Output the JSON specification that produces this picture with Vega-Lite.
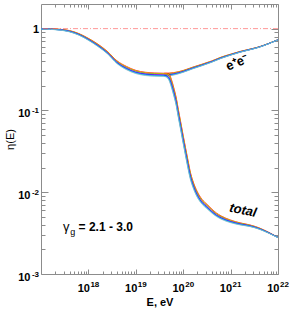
{
  "$schema": "https://vega.github.io/schema/vega-lite/v6.json",
  "width": 237,
  "height": 270,
  "autosize": {"type": "none"},
  "padding": {"left": 41, "top": 4, "right": 19, "bottom": 43},
  "background": "white",
  "config": {"view": {"stroke": null}, "font": "Liberation Sans"},
  "datasets": {
    "curves": [
      {"b":"ee","E":1e17,"g21":0.992,"g22":0.992,"g23":0.991,"g24":0.991,"g25":0.990,"g26":0.990,"g27":0.989,"g28":0.989,"g29":0.988,"g30":0.988},
      {"b":"ee","E":1.585e17,"g21":0.992,"g22":0.990,"g23":0.989,"g24":0.987,"g25":0.986,"g26":0.984,"g27":0.983,"g28":0.981,"g29":0.980,"g30":0.978},
      {"b":"ee","E":2.512e17,"g21":0.981,"g22":0.979,"g23":0.976,"g24":0.974,"g25":0.971,"g26":0.969,"g27":0.966,"g28":0.964,"g29":0.961,"g30":0.959},
      {"b":"ee","E":3.981e17,"g21":0.947,"g22":0.943,"g23":0.940,"g24":0.936,"g25":0.932,"g26":0.928,"g27":0.924,"g28":0.921,"g29":0.917,"g30":0.913},
      {"b":"ee","E":6.31e17,"g21":0.870,"g22":0.865,"g23":0.861,"g24":0.857,"g25":0.852,"g26":0.848,"g27":0.844,"g28":0.839,"g29":0.835,"g30":0.831},
      {"b":"ee","E":1e18,"g21":0.761,"g22":0.756,"g23":0.751,"g24":0.747,"g25":0.742,"g26":0.738,"g27":0.733,"g28":0.729,"g29":0.724,"g30":0.720},
      {"b":"ee","E":1.585e18,"g21":0.647,"g22":0.642,"g23":0.637,"g24":0.632,"g25":0.627,"g26":0.623,"g27":0.618,"g28":0.613,"g29":0.608,"g30":0.604},
      {"b":"ee","E":2.512e18,"g21":0.528,"g22":0.524,"g23":0.520,"g24":0.516,"g25":0.512,"g26":0.508,"g27":0.504,"g28":0.500,"g29":0.496,"g30":0.493},
      {"b":"ee","E":3.981e18,"g21":0.406,"g22":0.403,"g23":0.399,"g24":0.395,"g25":0.392,"g26":0.388,"g27":0.385,"g28":0.381,"g29":0.378,"g30":0.374},
      {"b":"ee","E":6.31e18,"g21":0.346,"g22":0.342,"g23":0.339,"g24":0.335,"g25":0.332,"g26":0.328,"g27":0.325,"g28":0.322,"g29":0.318,"g30":0.315},
      {"b":"ee","E":1e19,"g21":0.309,"g22":0.306,"g23":0.303,"g24":0.300,"g25":0.297,"g26":0.293,"g27":0.291,"g28":0.288,"g29":0.285,"g30":0.282},
      {"b":"ee","E":1.585e19,"g21":0.293,"g22":0.290,"g23":0.287,"g24":0.284,"g25":0.281,"g26":0.279,"g27":0.276,"g28":0.273,"g29":0.270,"g30":0.267},
      {"b":"ee","E":2.512e19,"g21":0.287,"g22":0.284,"g23":0.281,"g24":0.278,"g25":0.275,"g26":0.273,"g27":0.270,"g28":0.267,"g29":0.264,"g30":0.262},
      {"b":"ee","E":3.981e19,"g21":0.285,"g22":0.282,"g23":0.279,"g24":0.276,"g25":0.273,"g26":0.271,"g27":0.268,"g28":0.265,"g29":0.262,"g30":0.260},
      {"b":"ee","E":6.31e19,"g21":0.290,"g22":0.288,"g23":0.285,"g24":0.283,"g25":0.281,"g26":0.279,"g27":0.277,"g28":0.275,"g29":0.273,"g30":0.270},
      {"b":"ee","E":1e20,"g21":0.308,"g22":0.307,"g23":0.305,"g24":0.303,"g25":0.301,"g26":0.299,"g27":0.297,"g28":0.295,"g29":0.294,"g30":0.292},
      {"b":"ee","E":1.585e20,"g21":0.338,"g22":0.336,"g23":0.334,"g24":0.333,"g25":0.331,"g26":0.329,"g27":0.327,"g28":0.326,"g29":0.324,"g30":0.322},
      {"b":"ee","E":2.512e20,"g21":0.368,"g22":0.366,"g23":0.365,"g24":0.363,"g25":0.361,"g26":0.359,"g27":0.357,"g28":0.356,"g29":0.354,"g30":0.352},
      {"b":"ee","E":3.981e20,"g21":0.402,"g22":0.401,"g23":0.399,"g24":0.397,"g25":0.396,"g26":0.394,"g27":0.393,"g28":0.391,"g29":0.389,"g30":0.388},
      {"b":"ee","E":6.31e20,"g21":0.448,"g22":0.446,"g23":0.445,"g24":0.443,"g25":0.441,"g26":0.439,"g27":0.437,"g28":0.436,"g29":0.434,"g30":0.432},
      {"b":"ee","E":1e21,"g21":0.487,"g22":0.485,"g23":0.484,"g24":0.482,"g25":0.481,"g26":0.479,"g27":0.478,"g28":0.476,"g29":0.475,"g30":0.473},
      {"b":"ee","E":1.585e21,"g21":0.526,"g22":0.525,"g23":0.523,"g24":0.522,"g25":0.521,"g26":0.519,"g27":0.518,"g28":0.517,"g29":0.515,"g30":0.514},
      {"b":"ee","E":2.512e21,"g21":0.560,"g22":0.559,"g23":0.558,"g24":0.557,"g25":0.556,"g26":0.554,"g27":0.553,"g28":0.552,"g29":0.551,"g30":0.550},
      {"b":"ee","E":3.981e21,"g21":0.599,"g22":0.598,"g23":0.597,"g24":0.596,"g25":0.595,"g26":0.595,"g27":0.594,"g28":0.593,"g29":0.592,"g30":0.591},
      {"b":"ee","E":6.31e21,"g21":0.658,"g22":0.657,"g23":0.657,"g24":0.656,"g25":0.655,"g26":0.655,"g27":0.654,"g28":0.654,"g29":0.653,"g30":0.652},
      {"b":"ee","E":1e22,"g21":0.731,"g22":0.731,"g23":0.731,"g24":0.730,"g25":0.730,"g26":0.730,"g27":0.730,"g28":0.729,"g29":0.729,"g30":0.729},
      {"b":"tot","E":3.981e19,"g21":0.285,"g22":0.282,"g23":0.279,"g24":0.276,"g25":0.273,"g26":0.271,"g27":0.268,"g28":0.265,"g29":0.262,"g30":0.260},
      {"b":"tot","E":4.467e19,"g21":0.284,"g22":0.280,"g23":0.277,"g24":0.273,"g25":0.270,"g26":0.266,"g27":0.263,"g28":0.260,"g29":0.256,"g30":0.253},
      {"b":"tot","E":5.012e19,"g21":0.280,"g22":0.274,"g23":0.268,"g24":0.263,"g25":0.258,"g26":0.252,"g27":0.247,"g28":0.242,"g29":0.237,"g30":0.233},
      {"b":"tot","E":5.623e19,"g21":0.241,"g22":0.235,"g23":0.229,"g24":0.223,"g25":0.218,"g26":0.212,"g27":0.207,"g28":0.202,"g29":0.197,"g30":0.192},
      {"b":"tot","E":6.31e19,"g21":0.191,"g22":0.186,"g23":0.181,"g24":0.177,"g25":0.172,"g26":0.168,"g27":0.164,"g28":0.159,"g29":0.155,"g30":0.152},
      {"b":"tot","E":7.079e19,"g21":0.146,"g22":0.142,"g23":0.139,"g24":0.135,"g25":0.132,"g26":0.128,"g27":0.125,"g28":0.122,"g29":0.119,"g30":0.116},
      {"b":"tot","E":7.943e19,"g21":0.101,"g22":0.0984,"g23":0.0959,"g24":0.0935,"g25":0.0912,"g26":0.0889,"g27":0.0866,"g28":0.0844,"g29":0.0823,"g30":0.0802},
      {"b":"tot","E":8.913e19,"g21":0.0707,"g22":0.0689,"g23":0.0672,"g24":0.0655,"g25":0.0638,"g26":0.0622,"g27":0.0606,"g28":0.0591,"g29":0.0576,"g30":0.0562},
      {"b":"tot","E":1e20,"g21":0.0494,"g22":0.0481,"g23":0.0469,"g24":0.0457,"g25":0.0446,"g26":0.0434,"g27":0.0423,"g28":0.0413,"g29":0.0402,"g30":0.0392},
      {"b":"tot","E":1.122e20,"g21":0.0348,"g22":0.0339,"g23":0.0330,"g24":0.0322,"g25":0.0314,"g26":0.0306,"g27":0.0298,"g28":0.0291,"g29":0.0283,"g30":0.0276},
      {"b":"tot","E":1.259e20,"g21":0.0247,"g22":0.0241,"g23":0.0235,"g24":0.0229,"g25":0.0223,"g26":0.0217,"g27":0.0212,"g28":0.0206,"g29":0.0201,"g30":0.0196},
      {"b":"tot","E":1.413e20,"g21":0.0177,"g22":0.0173,"g23":0.0169,"g24":0.0166,"g25":0.0162,"g26":0.0158,"g27":0.0155,"g28":0.0151,"g29":0.0148,"g30":0.0144},
      {"b":"tot","E":1.585e20,"g21":0.0140,"g22":0.0138,"g23":0.0135,"g24":0.0132,"g25":0.0129,"g26":0.0127,"g27":0.0124,"g28":0.0122,"g29":0.0119,"g30":0.0117},
      {"b":"tot","E":1.995e20,"g21":0.0101,"g22":0.0099,"g23":0.0097,"g24":0.0096,"g25":0.0094,"g26":0.0092,"g27":0.0091,"g28":0.0089,"g29":0.0087,"g30":0.0086},
      {"b":"tot","E":2.512e20,"g21":0.00814,"g22":0.00802,"g23":0.00790,"g24":0.00778,"g25":0.00766,"g26":0.00754,"g27":0.00743,"g28":0.00731,"g29":0.00720,"g30":0.00709},
      {"b":"tot","E":3.162e20,"g21":0.00715,"g22":0.00704,"g23":0.00694,"g24":0.00685,"g25":0.00675,"g26":0.00665,"g27":0.00656,"g28":0.00646,"g29":0.00637,"g30":0.00628},
      {"b":"tot","E":3.981e20,"g21":0.00625,"g22":0.00617,"g23":0.00609,"g24":0.00601,"g25":0.00594,"g26":0.00586,"g27":0.00579,"g28":0.00571,"g29":0.00564,"g30":0.00557},
      {"b":"tot","E":5.012e20,"g21":0.00558,"g22":0.00551,"g23":0.00545,"g24":0.00539,"g25":0.00533,"g26":0.00527,"g27":0.00521,"g28":0.00515,"g29":0.00510,"g30":0.00504},
      {"b":"tot","E":6.31e20,"g21":0.00513,"g22":0.00508,"g23":0.00503,"g24":0.00498,"g25":0.00492,"g26":0.00487,"g27":0.00483,"g28":0.00478,"g29":0.00473,"g30":0.00468},
      {"b":"tot","E":1e21,"g21":0.00457,"g22":0.00453,"g23":0.00449,"g24":0.00445,"g25":0.00442,"g26":0.00438,"g27":0.00435,"g28":0.00431,"g29":0.00428,"g30":0.00424},
      {"b":"tot","E":1.585e21,"g21":0.00422,"g22":0.00420,"g23":0.00417,"g24":0.00414,"g25":0.00411,"g26":0.00409,"g27":0.00406,"g28":0.00403,"g29":0.00401,"g30":0.00398},
      {"b":"tot","E":2.512e21,"g21":0.00399,"g22":0.00397,"g23":0.00395,"g24":0.00393,"g25":0.00391,"g26":0.00389,"g27":0.00387,"g28":0.00385,"g29":0.00383,"g30":0.00381},
      {"b":"tot","E":3.981e21,"g21":0.00367,"g22":0.00365,"g23":0.00364,"g24":0.00362,"g25":0.00361,"g26":0.00359,"g27":0.00358,"g28":0.00356,"g29":0.00355,"g30":0.00353},
      {"b":"tot","E":6.31e21,"g21":0.00324,"g22":0.00323,"g23":0.00322,"g24":0.00321,"g25":0.00320,"g26":0.00320,"g27":0.00319,"g28":0.00318,"g29":0.00317,"g30":0.00316},
      {"b":"tot","E":1e22,"g21":0.00281,"g22":0.00281,"g23":0.00281,"g24":0.00280,"g25":0.00280,"g26":0.00280,"g27":0.00280,"g28":0.00279,"g29":0.00279,"g30":0.00279}
    ],
    "notes": [
      {"id":"ee","text":"e⁺e⁻","E":1.36e21,"v":0.383},
      {"id":"total","text":"total","E":1.83e21,"v":0.006},
      {"id":"gam","text":"γ","E":2.91e17,"v":0.00337},
      {"id":"sub","text":"g","E":4.15e17,"v":0.00300},
      {"id":"rng","text":"= 2.1 - 3.0","E":6.2e17,"v":0.00337}
    ],
    "unity": [{"v": 1}]
  },
  "resolve": {"axis": {"x": "independent", "y": "independent"}},
  "layer": [
    {
      "data": {"name": "curves"},
      "transform": [{"fold": ["g21","g22","g23","g24","g25","g26","g27","g28","g29","g30"], "as": ["gamma","eta"]}],
      "mark": {"type": "line", "strokeWidth": 0.9, "opacity": 0.8, "interpolate": "monotone"},
      "encoding": {
        "x": {"field": "E", "type": "quantitative",
              "scale": {"type": "log", "domain": [1e17, 1e22], "nice": false},
              "axis": {"orient": "bottom", "values": [1e18,1e19,1e20,1e21,1e22], "ticks": false, "grid": false,
                       "domainColor": "#8c8c8c", "labelExpr": "'10'", "labelAlign": "right", "labelOffset": 1,
                       "labelFont": "Liberation Sans", "labelFontWeight": "bold", "labelFontSize": 11, "labelColor": "black",
                       "labelPadding": 8, "labelFlush": false, "labelOverlap": false, "labelBound": false,
                       "title": "E, eV", "titleFont": "Liberation Sans", "titleFontSize": 11, "titleFontWeight": "bold", "titleColor": "black", "titlePadding": 3}},
        "y": {"field": "eta", "type": "quantitative",
              "scale": {"type": "log", "domain": [0.001, 2], "nice": false},
              "axis": {"orient": "left", "values": [0.001,0.01,0.1], "ticks": false, "grid": false,
                       "domainColor": "#8c8c8c", "labelExpr": "'10'", "labelOffset": 3.5,
                       "labelFont": "Liberation Sans", "labelFontWeight": "bold", "labelFontSize": 11, "labelColor": "black",
                       "labelPadding": 11, "labelFlush": false, "labelOverlap": false, "labelBound": false,
                       "title": "η(E)", "titleFont": "Liberation Sans", "titleFontSize": 11, "titleFontWeight": "normal", "titleColor": "black", "titlePadding": 2}},
        "color": {"field": "gamma", "type": "nominal", "legend": null,
                  "scale": {"domain": ["g21","g22","g23","g24","g25","g26","g27","g28","g29","g30"],
                            "range": ["#ff0000","#ff8c00","#e6c800","#00b400","#ff66cc","#8000ff","#0000ff","#00a0ff","#00cccc","#a0b4c8"]}},
        "detail": {"field": "b", "type": "nominal"}
      }
    },
    {
      "data": {"name": "unity"},
      "mark": {"type": "rule", "color": "#ff5555", "strokeDash": [5,2,1,2], "strokeWidth": 1, "opacity": 0.6},
      "encoding": {
        "y": {"field": "v", "type": "quantitative", "scale": {"type": "log", "domain": [0.001, 2], "nice": false}, "axis": null}
      }
    },
    {
      "data": {"name": "notes"},
      "transform": [{"filter": "datum.id == 'ee'"}],
      "mark": {"type": "text", "font": "Liberation Sans", "fontWeight": "bold", "fontSize": 13, "angle": 338, "align": "center", "baseline": "middle", "color": "black"},
      "encoding": {
        "text": {"field": "text"},
        "x": {"field": "E", "type": "quantitative", "scale": {"type": "log", "domain": [1e17, 1e22], "nice": false},
              "axis": {"orient": "bottom", "values": [1e18,1e19,1e20,1e21,1e22], "labels": false, "domain": false, "grid": false, "title": null, "tickSize": -5, "tickColor": "#8c8c8c"}},
        "y": {"field": "v", "type": "quantitative", "scale": {"type": "log", "domain": [0.001, 2], "nice": false},
              "axis": {"orient": "left", "values": [0.001,0.01,0.1,1], "labels": false, "domain": false, "grid": false, "title": null, "tickSize": -7, "tickColor": "#8c8c8c"}}
      }
    },
    {
      "data": {"name": "notes"},
      "transform": [{"filter": "datum.id == 'total'"}],
      "mark": {"type": "text", "font": "Liberation Sans", "fontWeight": "bold", "fontStyle": "italic", "fontSize": 13, "angle": 12, "align": "center", "baseline": "middle", "color": "black"},
      "encoding": {
        "text": {"field": "text"},
        "x": {"field": "E", "type": "quantitative", "scale": {"type": "log", "domain": [1e17, 1e22], "nice": false},
              "axis": {"orient": "bottom", "values": [2e17,3e17,4e17,5e17,6e17,7e17,8e17,9e17,2e18,3e18,4e18,5e18,6e18,7e18,8e18,9e18,2e19,3e19,4e19,5e19,6e19,7e19,8e19,9e19,2e20,3e20,4e20,5e20,6e20,7e20,8e20,9e20,2e21,3e21,4e21,5e21,6e21,7e21,8e21,9e21],
                       "labels": false, "domain": false, "grid": false, "title": null, "tickSize": -3, "tickColor": "#8c8c8c"}},
        "y": {"field": "v", "type": "quantitative", "scale": {"type": "log", "domain": [0.001, 2], "nice": false},
              "axis": {"orient": "left", "values": [0.002,0.003,0.004,0.005,0.006,0.007,0.008,0.009,0.02,0.03,0.04,0.05,0.06,0.07,0.08,0.09,0.2,0.3,0.4,0.5,0.6,0.7,0.8,0.9],
                       "labels": false, "domain": false, "grid": false, "title": null, "tickSize": -4, "tickColor": "#8c8c8c"}}
      }
    },
    {
      "data": {"name": "notes"},
      "transform": [{"filter": "datum.id == 'gam'"}],
      "mark": {"type": "text", "font": "Liberation Sans", "fontSize": 13, "align": "left", "baseline": "alphabetic", "color": "black"},
      "encoding": {
        "text": {"field": "text"},
        "x": {"field": "E", "type": "quantitative", "scale": {"type": "log", "domain": [1e17, 1e22], "nice": false},
              "axis": {"orient": "top", "values": [1e18,1e19,1e20,1e21,1e22], "labels": false, "domain": true, "domainColor": "#8c8c8c", "grid": false, "title": null, "tickSize": -5, "tickColor": "#8c8c8c"}},
        "y": {"field": "v", "type": "quantitative", "scale": {"type": "log", "domain": [0.001, 2], "nice": false},
              "axis": {"orient": "right", "values": [0.001,0.01,0.1,1], "labels": false, "domain": true, "domainColor": "#8c8c8c", "grid": false, "title": null, "tickSize": -7, "tickColor": "#8c8c8c"}}
      }
    },
    {
      "data": {"name": "notes"},
      "transform": [{"filter": "datum.id == 'sub'"}],
      "mark": {"type": "text", "font": "Liberation Sans", "fontSize": 9, "align": "left", "baseline": "alphabetic", "color": "black"},
      "encoding": {
        "text": {"field": "text"},
        "x": {"field": "E", "type": "quantitative", "scale": {"type": "log", "domain": [1e17, 1e22], "nice": false},
              "axis": {"orient": "top", "values": [2e17,3e17,4e17,5e17,6e17,7e17,8e17,9e17,2e18,3e18,4e18,5e18,6e18,7e18,8e18,9e18,2e19,3e19,4e19,5e19,6e19,7e19,8e19,9e19,2e20,3e20,4e20,5e20,6e20,7e20,8e20,9e20,2e21,3e21,4e21,5e21,6e21,7e21,8e21,9e21],
                       "labels": false, "domain": false, "grid": false, "title": null, "tickSize": -3, "tickColor": "#8c8c8c"}},
        "y": {"field": "v", "type": "quantitative", "scale": {"type": "log", "domain": [0.001, 2], "nice": false},
              "axis": {"orient": "right", "values": [0.002,0.003,0.004,0.005,0.006,0.007,0.008,0.009,0.02,0.03,0.04,0.05,0.06,0.07,0.08,0.09,0.2,0.3,0.4,0.5,0.6,0.7,0.8,0.9],
                       "labels": false, "domain": false, "grid": false, "title": null, "tickSize": -4, "tickColor": "#8c8c8c"}}
      }
    },
    {
      "data": {"name": "notes"},
      "transform": [{"filter": "datum.id == 'rng'"}],
      "mark": {"type": "text", "font": "Liberation Sans", "fontWeight": "bold", "fontSize": 12, "align": "left", "baseline": "alphabetic", "color": "black"},
      "encoding": {
        "text": {"field": "text"},
        "x": {"field": "E", "type": "quantitative", "scale": {"type": "log", "domain": [1e17, 1e22], "nice": false},
              "axis": {"orient": "bottom", "values": [1e18,1e19,1e20,1e21,1e22], "ticks": false, "domain": false, "grid": false, "title": null,
                       "labelExpr": "format(round(log(datum.value)/LN10), 'd')", "labelAlign": "left", "labelOffset": 1.5,
                       "labelFont": "Liberation Sans", "labelFontWeight": "bold", "labelFontSize": 8, "labelColor": "black",
                       "labelPadding": 6, "labelFlush": false, "labelOverlap": false, "labelBound": false}},
        "y": {"field": "v", "type": "quantitative", "scale": {"type": "log", "domain": [0.001, 2], "nice": false},
              "axis": {"orient": "left", "values": [0.001,0.01,0.1,1], "ticks": false, "domain": false, "grid": false, "title": null,
                       "labelExpr": "datum.value >= 0.5 ? '1' : datum.value >= 0.05 ? '-1' : datum.value >= 0.005 ? '-2' : '-3'",
                       "labelOffset": 0.5, "labelFont": "Liberation Sans", "labelFontWeight": "bold", "labelColor": "black",
                       "labelFontSize": {"condition": {"test": "datum.value >= 0.5", "value": 11}, "value": 8},
                       "labelPadding": 2.5, "labelFlush": false, "labelOverlap": false, "labelBound": false}}
      }
    }
  ]
}
